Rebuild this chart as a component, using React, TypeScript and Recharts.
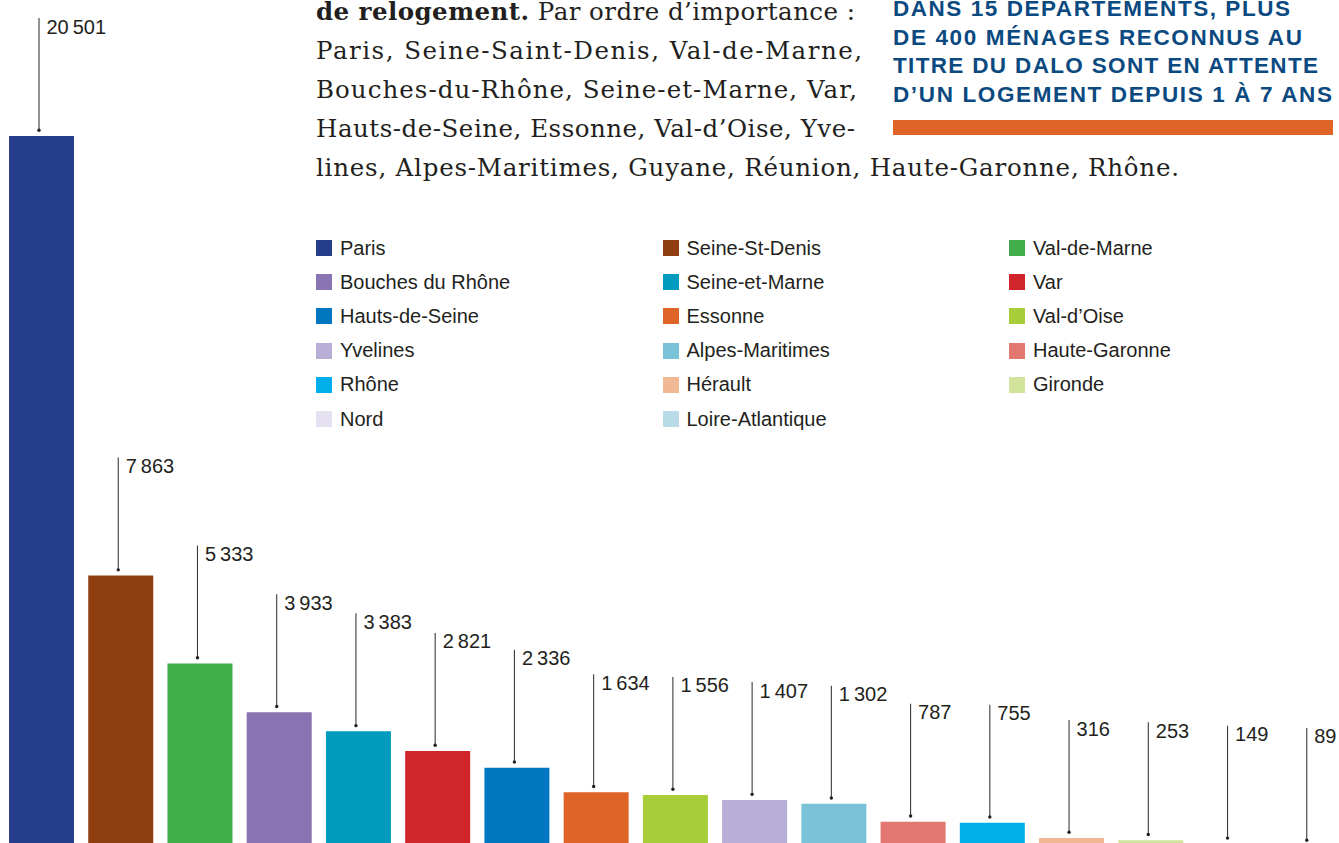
import React from 'react';
import { BarChart, Bar, XAxis, YAxis, Cell, LabelList, Legend } from 'recharts';

// Départements, par ordre d'importance
const departements = [
  'Paris', 'Seine-St-Denis', 'Val-de-Marne',
  'Bouches du Rhône', 'Seine-et-Marne', 'Var',
  'Hauts-de-Seine', 'Essonne', 'Val-d’Oise',
  'Yvelines', 'Alpes-Maritimes', 'Haute-Garonne',
  'Rhône', 'Hérault', 'Gironde',
  'Nord', 'Loire-Atlantique',
];

// ménages DALO en attente de relogement
const menages = [20501, 7863, 5333, 3933, 3383, 2821, 2336, 1634, 1556, 1407, 1302, 787, 755, 316, 253, 149, 89];

const couleurs = [
  '#263d8b', '#8f3e12', '#41ad4b',
  '#8a73b3', '#009cc0', '#d1252c',
  '#0077c0', '#df6428', '#a7cd38',
  '#b9aed5', '#79c2d8', '#e27670',
  '#00aeea', '#f1b894', '#d2e49c',
  '#e5e1f0', '#b9dbe8',
];

const paragraphe = [
  'Paris, Seine-Saint-Denis, Val-de-Marne,',
  'Bouches-du-Rhône, Seine-et-Marne, Var,',
  'Hauts-de-Seine, Essonne, Val-d’Oise, Yve-',
  'lines, Alpes-Maritimes, Guyane, Réunion, Haute-Garonne, Rhône.',
];

const titre = [
  'DANS 15 DÉPARTEMENTS, PLUS',
  'DE 400 MÉNAGES RECONNUS AU',
  'TITRE DU DALO SONT EN ATTENTE',
  'D’UN LOGEMENT DEPUIS 1 À 7 ANS',
];

const chartData = departements.map((nom, i) => ({ nom, menages: menages[i] }));

const fmt = (v: number) => String(v).replace(/\B(?=(\d{3})+(?!\d))/g, '\u2009');

const SANS = '"Liberation Sans", Arial, Helvetica, sans-serif';
const SERIF = '"DejaVu Serif", "Liberation Serif", serif';
const INK = '#231f20';

const ValueLabel = (props: any) => {
  const x = Number(props.x);
  const y = Number(props.y);
  const w = Number(props.width);
  const lx = x + w / 2 - 2.5;
  const top = y - 118;
  return (
    <g>
      <line x1={lx} x2={lx} y1={top} y2={y - 6} stroke="#3a3a3a" strokeWidth={1.1} />
      <circle cx={lx} cy={y - 5.7} r={1.7} fill={INK} />
      <text x={lx + 7.5} y={top + 15.5} fontSize={20} fill={INK} fontFamily={SANS}>
        {fmt(Number(props.value))}
      </text>
    </g>
  );
};

const LegendeGrille = () => (
  <div style={{ position: 'relative', width: 1023, height: 200, fontFamily: SANS, fontSize: 20, color: INK }}>
    {departements.map((nom, i) => (
      <div
        key={nom}
        style={{
          position: 'absolute',
          left: (i % 3) * 346.5,
          top: Math.floor(i / 3) * 34.2,
          height: 16,
          display: 'flex',
          alignItems: 'center',
          whiteSpace: 'nowrap',
        }}
      >
        <span style={{ display: 'inline-block', width: 16, height: 16, background: couleurs[i], marginRight: 8 }} />
        <span>{nom}</span>
      </div>
    ))}
  </div>
);

const paraEnds = [862, 857, 855, 1179];
const titreEnds = [1290, 1302, 1318, 1332];

export default function App() {
  return (
    <div style={{ position: 'absolute', left: 0, top: 0, width: 1339, height: 843, overflow: 'hidden', background: '#fff' }}>
      <BarChart width={1349} height={849} data={chartData} margin={{ top: 136, right: 0, left: 2, bottom: 0 }} barCategoryGap={7}>
        <XAxis dataKey="nom" hide />
        <YAxis hide domain={[0, 'dataMax']} />
        <Legend
          layout="horizontal"
          verticalAlign="middle"
          align="center"
          content={LegendeGrille}
          wrapperStyle={{ left: 316, top: 240, width: 1023, height: 200 }}
        />
        <Bar dataKey="menages" isAnimationActive={false}>
          {chartData.map((d, i) => (
            <Cell key={d.nom} fill={couleurs[i]} />
          ))}
          <LabelList dataKey="menages" content={ValueLabel} />
        </Bar>
      </BarChart>
      <svg width={1339} height={843} style={{ position: 'absolute', left: 0, top: 0, pointerEvents: 'none' }}>
        <text x={316} y={20} fontSize={24.5} fill={INK} fontFamily={SERIF} textLength={539}>
          <tspan fontWeight="bold">de relogement.</tspan>
          <tspan> Par ordre d’importance :</tspan>
        </text>
        {paragraphe.map((l, i) => (
          <text
            key={l}
            x={316}
            y={59 + i * 39}
            fontSize={24.5}
            fill={INK}
            fontFamily={SERIF}
            textLength={paraEnds[i] - 316}
          >
            {l}
          </text>
        ))}
        {titre.map((l, i) => (
          <text
            key={l}
            x={893}
            y={16 + i * 28.7}
            fontSize={22.5}
            fontWeight="bold"
            fill="#0b4a80"
            fontFamily={SANS}
            textLength={titreEnds[i] - 893}
          >
            {l}
          </text>
        ))}
        <rect x={893} y={120} width={440} height={15} fill="#df6428" />
      </svg>
    </div>
  );
}
